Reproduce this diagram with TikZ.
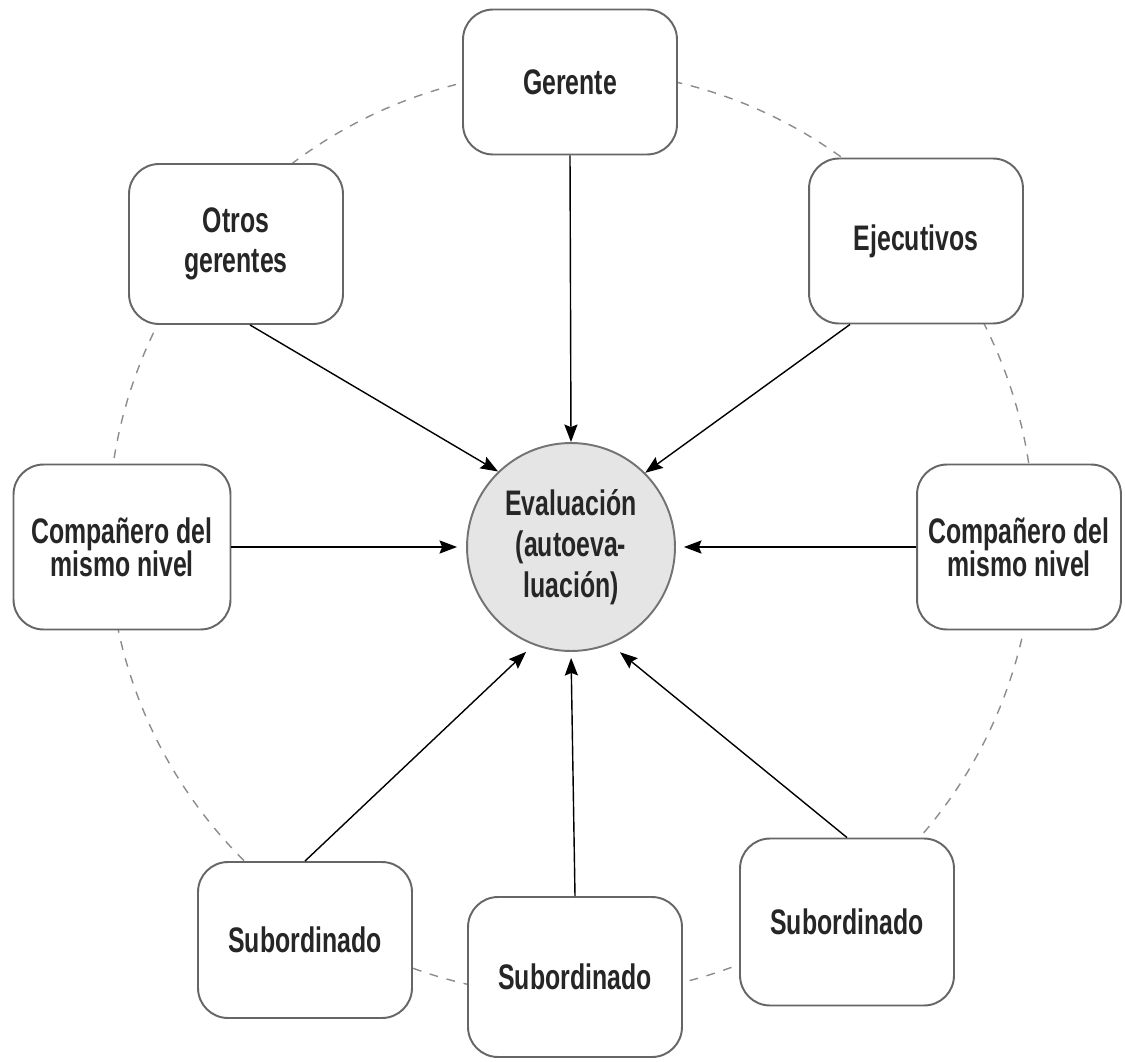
\documentclass[tikz,border=0pt]{standalone}
\usepackage{fontspec}
\setmainfont{Liberation Sans}[FakeStretch=0.7]
\usetikzlibrary{arrows.meta}
\tikzset{
	font=\fontsize{20.2}{22}\selectfont\bfseries,
	rolebox/.style={draw=black!60, line width=1.1pt, rounded corners=0.6cm, fill=white,
		align=center, minimum width=4.28cm, minimum height=3.2cm, text=black!85},
	evalnode/.style={circle, draw=black!55, line width=1.1pt, fill=black!10,
		minimum size=4.16cm, inner sep=0pt, align=center, text=black!85,
		font=\fontsize{20.2}{23.5}\selectfont\bfseries},
	feed/.style={-{Stealth[length=10pt, width=7.5pt, inset=1.5pt]}, line width=0.8pt},
}

\begin{document}
\begin{tikzpicture}[x=0.02cm, y=-0.02cm]
	\useasboundingbox (0,0) rectangle (1125,1061);
	% outer ring behind the boxes
	\draw [black!45, line width=0.8pt, dash pattern=on 5pt off 5pt] (571,533) circle [radius=9.26cm];

	\node[evalnode] (eval) at (571,547) {Evaluación\\(autoeva-\\luación)};

	\node[rolebox, minimum height=2.9cm] (gerente) at (570,82) {Gerente};
	\node[rolebox, font=\fontsize{20.2}{22.7}\selectfont\bfseries] (otros) at (236,244) {Otros\\gerentes};
	\node[rolebox, minimum height=3.3cm] (ejec) at (916,241) {Ejecutivos};

	\node[rolebox, minimum width=4.34cm, minimum height=3.3cm, font=\fontsize{20.2}{19}\selectfont\bfseries] (compizq) at (122,547) {Compañero del\\mismo nivel};
	\node[rolebox, minimum width=4.08cm, minimum height=3.3cm, font=\fontsize{20.2}{19}\selectfont\bfseries] (compder) at (1019,547) {Compañero del\\mismo nivel};

	\node[rolebox, minimum height=3.12cm] (subizq) at (305,940) {Subordinado};
	\node[rolebox] (subcen) at (575,977) {Subordinado};
	\node[rolebox, minimum height=3.34cm] (subder) at (847,922) {Subordinado};

	\draw [feed] (gerente.south) -- (eval.north);
	\draw [feed] ([xshift=0.28cm]otros.south) -- (eval.134);
	\draw [feed] ([xshift=-1.32cm]ejec.south) -- (eval.45);
	\draw [feed, shorten >=0.18cm] (compizq.east) -- (eval.west);
	\draw [feed, shorten >=0.16cm] (compder.west) -- (eval.east);
	\draw [feed, shorten >=0.2cm] (subizq.north) -- (eval.249);
	\draw [feed, shorten >=0.12cm] (subcen.north) -- (eval.south);
	\draw [feed, shorten >=0.25cm] (subder.north) -- (eval.292);
\end{tikzpicture}
\end{document}
